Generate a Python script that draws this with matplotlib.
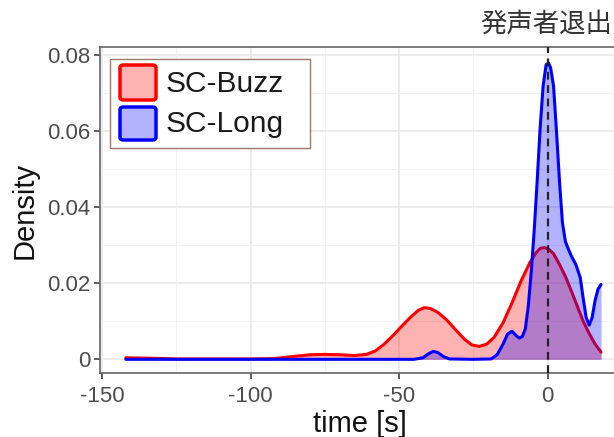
import matplotlib
matplotlib.use("Agg")
import matplotlib.pyplot as plt
from matplotlib.colors import to_rgba
from matplotlib.patches import Rectangle, FancyBboxPatch
from matplotlib.ticker import MultipleLocator, FixedLocator

plt.rcParams["font.family"] = ["Liberation Sans", "DejaVu Sans"]

# Density estimates of the time (s) relative to the speaker leaving
buzz_t = [-142, -134, -125, -110, -100, -92, -85, -80, -75, -70, -65, -61, -58,
          -55, -52, -49, -46, -43.5, -41.5, -39.5, -37, -34, -31, -28, -25.5,
          -23, -20.5, -18, -15, -12, -9, -6, -4, -2.5, -1, 0.5, 2, 4, 6, 8,
          10, 12, 14, 16, 18]
buzz_d = [0.0004, 0.0003, 0.0001, 0.0001, 0.0001, 0.0002, 0.0008, 0.0012,
          0.0013, 0.0012, 0.0010, 0.0013, 0.0022, 0.0040, 0.0063, 0.0088,
          0.0112, 0.0129, 0.0136, 0.0134, 0.0124, 0.0104, 0.0078, 0.0053,
          0.0038, 0.0034, 0.0040, 0.0058, 0.0096, 0.0148, 0.0205, 0.0254,
          0.0279, 0.0292, 0.0294, 0.0289, 0.0278, 0.0250, 0.0218, 0.0180,
          0.0140, 0.0100, 0.0068, 0.0040, 0.0019]

long_t = [-142, -120, -100, -80, -60, -45, -42, -40, -38.5, -37, -35, -33,
          -25, -19, -17, -15, -13.5, -12, -10.5, -9.5, -8.5, -7.5, -6.5, -5.5,
          -4.5, -3.5, -2.5, -1.5, -0.5, 0.3, 1, 2, 3, 4, 5, 6, 7, 8, 9.5, 11,
          12, 13, 14, 15, 16, 17, 18]
long_d = [0, 0, 0, 0, 0, 0, 0.0004, 0.0015, 0.0021, 0.0018, 0.0007, 0.0001,
          0, 0.0001, 0.0012, 0.0040, 0.0066, 0.0074, 0.0062, 0.0056, 0.0060,
          0.0080, 0.0140, 0.0230, 0.0340, 0.0470, 0.0610, 0.0720, 0.0775,
          0.0780, 0.0768, 0.0720, 0.0600, 0.0470, 0.0360, 0.0310, 0.0290,
          0.0272, 0.0250, 0.0215, 0.0160, 0.0110, 0.0090, 0.0110, 0.0155,
          0.0185, 0.0197]

series_names = ["SC-Buzz", "SC-Long"]
series_colors = ["#FF0000", "#0000FF"]
event_time = 0
event_label = "発声者退出"

x_ticks = [-150, -100, -50, 0]
y_ticks = [0, 0.02, 0.04, 0.06, 0.08]
y_tick_labels = ["0", "0.02", "0.04", "0.06", "0.08"]

W, H = 614, 437
fig = plt.figure(figsize=(W / 100, H / 100), dpi=100)
ax = fig.add_axes([100 / W, 64 / H, 524.8 / W, 326 / H])

# each series: translucent fill then outline; later series cover earlier ones
z = 2
for t, d, c in ((buzz_t, buzz_d, series_colors[0]),
                (long_t, long_d, series_colors[1])):
    ax.fill_between(t, 0, d, color=c, alpha=0.3, lw=0, zorder=z)
    ax.plot(t, d, color=c, lw=2.2, solid_capstyle="round",
            solid_joinstyle="round", zorder=z + 0.5)
    z += 1

ax.axvline(event_time, color="#222222", lw=1.6, ls=(0, (3.5, 2.5)), zorder=6)

ax.set_xlim(-150.7, 26.0)
ax.set_ylim(-0.0036, 0.0822)

ax.xaxis.set_major_locator(FixedLocator(x_ticks))
ax.xaxis.set_minor_locator(FixedLocator([-125, -75, -25, 25]))
ax.yaxis.set_major_locator(FixedLocator(y_ticks))
ax.yaxis.set_minor_locator(MultipleLocator(0.01))
ax.set_yticklabels(y_tick_labels)
ax.set_xticklabels([str(v) for v in x_ticks])

ax.grid(which="major", color="#EBEBEB", lw=1.3, zorder=0)
ax.grid(which="minor", color="#F2F2F2", lw=0.8, zorder=0)
ax.set_axisbelow(True)

ax.tick_params(which="major", length=4, width=1.1, color="#333333",
               labelsize=16, labelcolor="#4D4D4D", pad=3)
ax.tick_params(axis="x", which="major", pad=5.5)
ax.tick_params(which="minor", length=0)
for s in ax.spines.values():
    s.set_color("#666666")
    s.set_linewidth(1.2)

ax.set_xlabel("time [s]", fontsize=21, color="#111111")
ax.xaxis.set_label_coords((360 - 100) / 524.8, (373 - 424) / 326)
ax.xaxis.label.set_va("center")
ax.set_ylabel("Density", fontsize=21, labelpad=6, color="#111111")

# legend box drawn in figure pixel coordinates
def fx(px):
    return px / W

def fy(py):
    return 1 - py / H

fig.patches.append(Rectangle((fx(110), fy(148)), fx(310) - fx(110),
                             fy(59) - fy(148), transform=fig.transFigure,
                             facecolor="white", edgecolor="#9C7B6E", lw=1.0,
                             zorder=10))
key_rows = [(64, 101), (106, 141)]
for (top, bot), name, c in zip(key_rows, series_names, series_colors):
    fig.patches.append(FancyBboxPatch((fx(120), fy(bot - 1)),
                                      fx(156) - fx(120), fy(top + 1) - fy(bot - 1),
                                      boxstyle="round,pad=0,rounding_size=0.006",
                                      transform=fig.transFigure,
                                      facecolor=to_rgba(c, 0.3), edgecolor=c,
                                      lw=2.5, zorder=11))
    fig.text(fx(166), fy((top + bot) / 2 + 1), name, ha="left", va="center",
             fontsize=21.5, color="#1A1A1A", zorder=12)

fig.text(612 / W, 1 - 24 / H, event_label, ha="right", va="center",
         fontsize=19, color="#333333",
         family=["Noto Sans CJK JP", "DejaVu Sans"])

fig.savefig("out.png", dpi=100)
